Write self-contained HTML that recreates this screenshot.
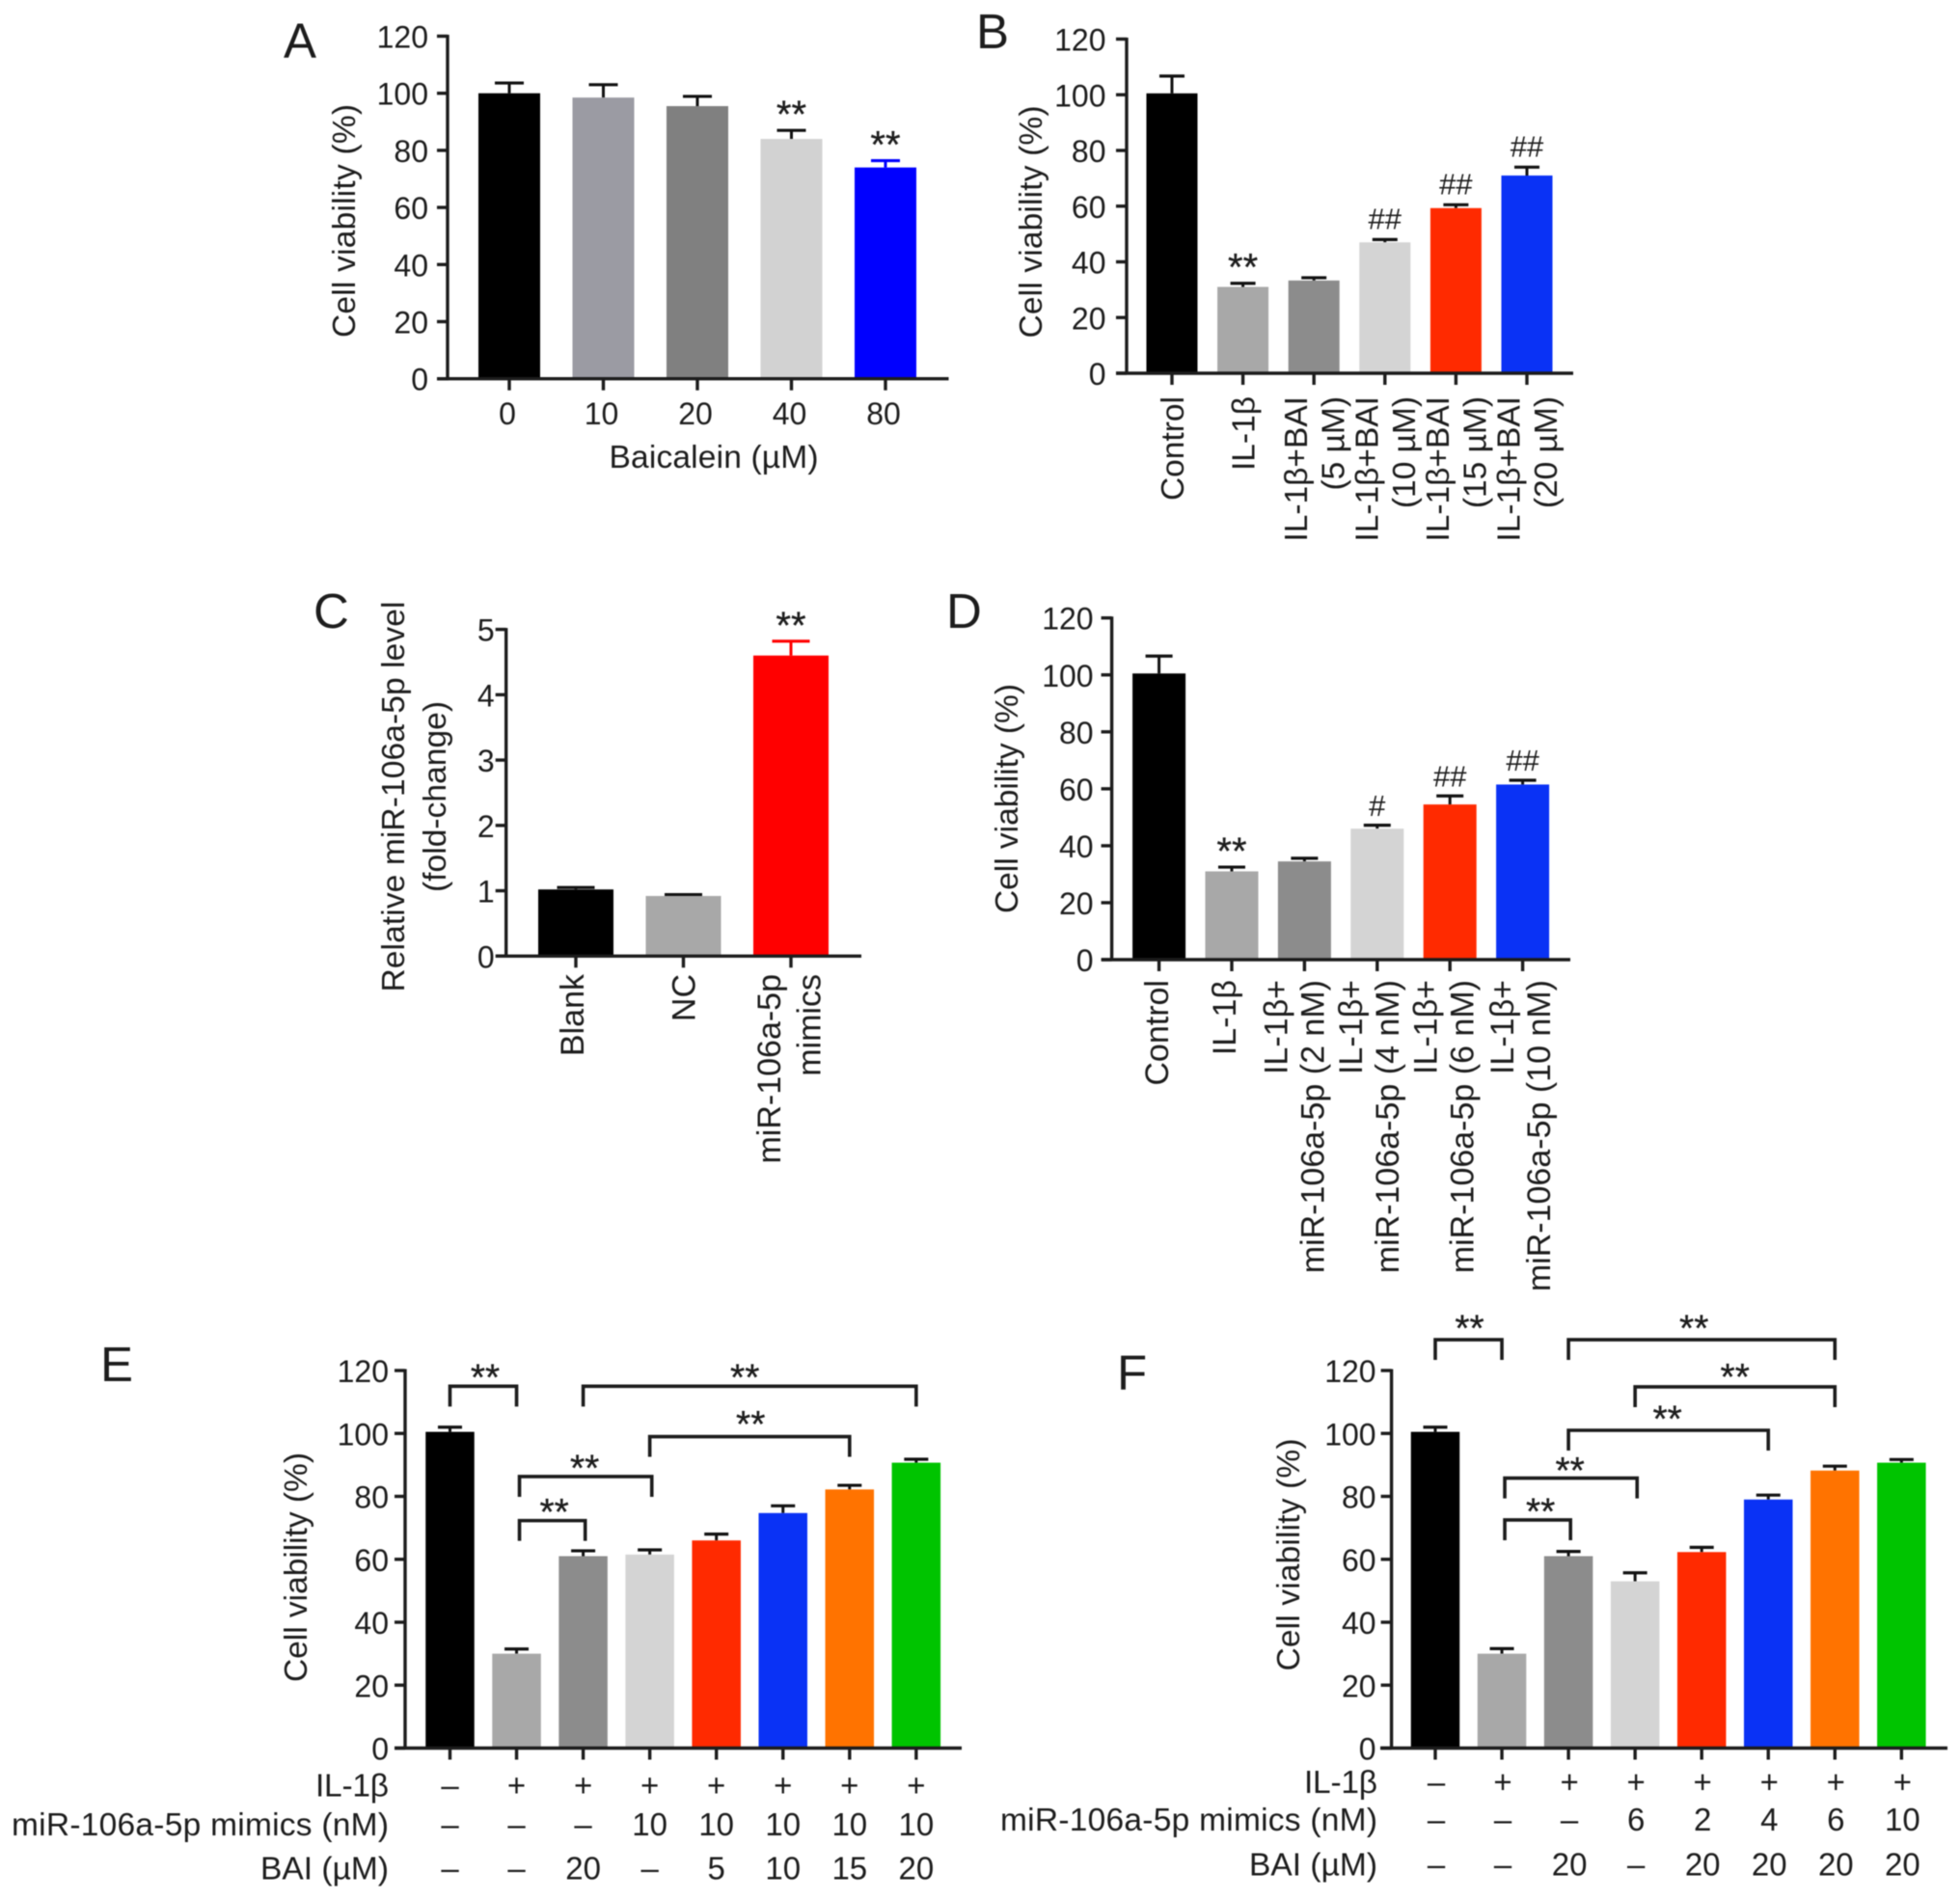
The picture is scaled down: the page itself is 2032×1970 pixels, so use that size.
<!DOCTYPE html>
<html lang="en">
<head>
<meta charset="utf-8">
<title>Cell viability panels A-F</title>
<style>
html,body{margin:0;padding:0;background:#fff;}
#figure{display:block;width:2032px;height:1970px;filter:blur(0.6px);}
text{font-family:"Liberation Sans",Arial,sans-serif;fill:#1c1c1c;}
</style>
</head>
<body>
<svg id="figure" xmlns="http://www.w3.org/2000/svg" width="2032" height="1970" viewBox="0 0 2032 1970">
<rect width="2032" height="1970" fill="#fff"></rect>
<text x="294" y="60" font-size="51">A</text>
<text x="1012" y="50" font-size="51">B</text>
<text x="325" y="651" font-size="51">C</text>
<text x="981" y="651" font-size="51">D</text>
<text x="104" y="1432" font-size="51">E</text>
<text x="1158" y="1441" font-size="51">F</text>
</svg>
<script>
/* ---------- Panel A data ---------- */
const aCategories = ['0', '10', '20', '40', '80'];
const aValues = [100, 98.5, 95.5, 84, 74];
const aErrorTops = [103.6, 103, 98.9, 87, 76.4];
const aMarks = ['', '', '', '**', '**'];
const aTicks = [0, 20, 40, 60, 80, 100, 120];

/* ---------- Panel B data ---------- */
const bCategories = [['Control'], ['IL-1β'], ['IL-1β+BAI', '(5 µM)'], ['IL-1β+BAI', '(10 µM)'], ['IL-1β+BAI', '(15 µM)'], ['IL-1β+BAI', '(20 µM)']];
const bValues = [100.5, 31, 33.3, 47, 59.3, 71];
const bErrorTops = [106.7, 32.3, 34.3, 48, 60.5, 74];
const bMarks = ['', '**', '', '##', '##', '##'];
const bTicks = [0, 20, 40, 60, 80, 100, 120];

/* ---------- Panel C data ---------- */
const cCategories = [['Blank'], ['NC'], ['miR-106a-5p', 'mimics']];
const cValues = [1.02, 0.92, 4.6];
const cErrorTops = [1.05, 0.94, 4.82];
const cMarks = ['', '', '**'];
const cTicks = [0, 1, 2, 3, 4, 5];

/* ---------- Panel D data ---------- */
const dCategories = [['Control'], ['IL-1β'], ['IL-1β+', 'miR-106a-5p (2 nM)'], ['IL-1β+', 'miR-106a-5p (4 nM)'], ['IL-1β+', 'miR-106a-5p (6 nM)'], ['IL-1β+', 'miR-106a-5p (10 nM)']];
const dValues = [100.5, 31, 34.5, 46, 54.5, 61.5];
const dErrorTops = [106.6, 32.5, 35.6, 47.2, 57.5, 63];
const dMarks = ['', '**', '', '#', '##', '##'];
const dTicks = [0, 20, 40, 60, 80, 100, 120];

/* ---------- Panel E data ---------- */
const eValues = [100.5, 30, 61, 61.5, 66, 74.7, 82.2, 90.7];
const eErrorTops = [102, 31.5, 62.7, 63, 68, 77, 83.5, 91.8];
const eTicks = [0, 20, 40, 60, 80, 100, 120];
const eRowIL = ['–', '+', '+', '+', '+', '+', '+', '+'];
const eRowMimics = ['–', '–', '–', '10', '10', '10', '10', '10'];
const eRowBAI = ['–', '–', '20', '–', '5', '10', '15', '20'];
const eBracketFrom = [0, 2, 3, 1, 1];
const eBracketTo = [1, 7, 6, 3, 2];
const eBracketLevel = [115, 115, 99, 86.3, 72.3];

/* ---------- Panel F data ---------- */
const fValues = [100.5, 30, 61, 53, 62.3, 79, 88.2, 90.7];
const fErrorTops = [102, 31.6, 62.5, 55.7, 63.8, 80.4, 89.6, 91.7];
const fTicks = [0, 20, 40, 60, 80, 100, 120];
const fRowIL = ['–', '+', '+', '+', '+', '+', '+', '+'];
const fRowMimics = ['–', '–', '–', '6', '2', '4', '6', '10'];
const fRowBAI = ['–', '–', '20', '–', '20', '20', '20', '20'];
const fBracketFrom = [0, 2, 3, 2, 1, 1];
const fBracketTo = [1, 6, 6, 5, 3, 2];
const fBracketLevel = [129.8, 129.8, 114.8, 101, 85.8, 72.5];

/* ---------- Drawing ---------- */
const NS = 'http://www.w3.org/2000/svg';
const INK = '#1c1c1c';
const AXIS_W = 3.4;
const root = document.getElementById('figure');

function slug(s) {
  return String(s).toLowerCase().replace(/[^a-z0-9]+/g, '-').replace(/^-|-$/g, '');
}
function makeLine(parent, x1, y1, x2, y2, color, width) {
  const el = document.createElementNS(NS, 'line');
  el.setAttribute('x1', x1);
  el.setAttribute('y1', y1);
  el.setAttribute('x2', x2);
  el.setAttribute('y2', y2);
  el.setAttribute('stroke', color);
  el.setAttribute('stroke-width', width);
  parent.appendChild(el);
  return el;
}
function makeText(parent, x, y, str, size, anchor, vertical, length) {
  const el = document.createElementNS(NS, 'text');
  el.setAttribute('x', x);
  el.setAttribute('y', y);
  el.setAttribute('font-size', size);
  el.setAttribute('text-anchor', anchor);
  if (vertical) el.setAttribute('transform', 'rotate(-90 ' + x + ' ' + y + ')');
  if (length) el.setAttribute('textLength', length);
  el.textContent = str;
  parent.appendChild(el);
  return el;
}
function makeGroup(name) {
  const g = document.createElementNS(NS, 'g');
  
  
  root.appendChild(g);
  return g;
}
function emboldenStars(el) {
  el.setAttribute('stroke', INK);
  el.setAttribute('stroke-width', '0.3');
}

function drawBars(L, values, errorTops, ticks) {
  const g = makeGroup('panel-' + L.id + '-chart');
  const y = function (v) { return L.y0 - (v / L.max) * (L.y0 - L.yTop); };
  const x = function (i) { return L.x0 + i * L.step; };
  L.yScale = y;
  L.xScale = x;
  L.group = g;

  values.forEach(function (v, i) {
    const stem = makeLine(g, x(i), y(v), x(i), y(errorTops[i]), L.errorColors[i], 3);
    
    
    const cap = makeLine(g, x(i) - L.capW / 2, y(errorTops[i]), x(i) + L.capW / 2, y(errorTops[i]), L.errorColors[i], 3.2);
    
    
    const bar = document.createElementNS(NS, 'rect');
    bar.setAttribute('x', x(i) - L.barW / 2);
    bar.setAttribute('y', y(v));
    bar.setAttribute('width', L.barW);
    bar.setAttribute('height', L.y0 - y(v));
    bar.setAttribute('fill', L.colors[i]);
    
    
    g.appendChild(bar);
    const tick = makeLine(g, x(i), L.y0, x(i), L.y0 + 12, INK, AXIS_W);
    
    
  });

  const yAxis = makeLine(g, L.axisX, L.yTop - 1.5, L.axisX, L.y0 + 1.5, INK, AXIS_W);
  
  
  const xAxis = makeLine(g, L.xAxisL, L.y0, L.xAxisR, L.y0, INK, AXIS_W);
  
  

  ticks.forEach(function (t) {
    const tl = makeLine(g, L.axisX - 11, y(t), L.axisX, y(t), INK, AXIS_W);
    
    
    const lb = makeText(g, L.axisX - L.labelGap, y(t) + 12, String(t), 32, 'end', false);
    
    
  });
  return g;
}

function drawYTitle(L, lines) {
  lines.forEach(function (line, i) {
    const t = makeText(L.group, line.x, L.titleCy, line.text, 33.5, 'middle', true, line.length);
    
    
  });
}

function drawMarks(L, marks, errorTops) {
  marks.forEach(function (m, i) {
    if (!m) return;
    const isStar = m.charAt(0) === '*';
    const size = isStar ? 40 : 31;
    const center = L.yScale(errorTops[i]) - (isStar ? 26 : L.hashGap);
    const base = center + (isStar ? 0.575 * size : 0.36 * size);
    const t = makeText(L.group, L.xScale(i), base, m, size, 'middle', false);
    if (isStar) emboldenStars(t);
    
    
  });
}

function drawVerticalLabels(L, categories) {
  const size = L.labelFont || 33.5;
  categories.forEach(function (lines, i) {
    const offsets = lines.length === 1 ? L.singleOffset : L.doubleOffset;
    lines.forEach(function (str, j) {
      const cx = L.xScale(i) + L.labelNudge[i] + offsets[j] + size * 0.36;
      const t = makeText(L.group, cx, L.labelTop, str, size, 'end', true);
      
      
    });
  });
}

function drawBrackets(L, from, to, level) {
  from.forEach(function (f, i) {
    const nudge = f === 1 ? 3 : 0;
    const x1 = L.xScale(f) + nudge;
    const x2 = L.xScale(to[i]) + nudge * 0.7;
    const yb = L.yScale(level[i]);
    const p = document.createElementNS(NS, 'polyline');
    p.setAttribute('points', x1 + ',' + (yb + 21) + ' ' + x1 + ',' + yb + ' ' + x2 + ',' + yb + ' ' + x2 + ',' + (yb + 21));
    p.setAttribute('fill', 'none');
    p.setAttribute('stroke', INK);
    p.setAttribute('stroke-width', 3.6);
    
    
    L.group.appendChild(p);
    const sx = (x1 + x2) / 2 + L.starDx[i];
    const sy = yb - 14 + L.starDy[i] + 0.575 * 39;
    const star = makeText(L.group, sx, sy, '**', 39, 'middle', false);
    emboldenStars(star);
    
    
  });
}

function drawRows(L, rowTitles, rows) {
  rows.forEach(function (row, r) {
    const head = makeText(L.group, L.rowTitleX, L.rowY[r], rowTitles[r].text, 33.5, 'end', false, rowTitles[r].length);
    
    
    row.forEach(function (val, i) {
      const cell = makeText(L.group, L.xScale(i) + L.rowNudge, L.rowY[r], val, 33, 'middle', false);
      
      
    });
  });
}

/* Layouts (pixel geometry and styling, kept separate from the data arrays) */
const layoutA = { id: 'a', y0: 392.7, yTop: 37.5, max: 120, x0: 528, step: 97.5, barW: 64, capW: 30, axisX: 464, xAxisL: 453, xAxisR: 983.5, labelGap: 20, hashGap: 22, titleCy: 229,
  colors: ['#000000', '#9b9ba3', '#808080', '#d2d2d2', '#0000ff'],
  errorColors: ['#111', '#111', '#111', '#111', '#0000ff'] };
const layoutB = { id: 'b', y0: 387, yTop: 40.5, max: 120, x0: 1215, step: 73.6, barW: 53, capW: 26, axisX: 1168, xAxisL: 1157, xAxisR: 1631, labelGap: 21.5, hashGap: 22, titleCy: 230, labelTop: 411, singleOffset: [0], doubleOffset: [-19.5, 19], labelNudge: [0, 0, 0, 0, 0, 0],
  colors: ['#000000', '#a8a8a8', '#8c8c8c', '#d4d4d4', '#ff2a00', '#0a32f5'],
  errorColors: ['#111', '#111', '#111', '#111', '#111', '#111'] };
const layoutC = { id: 'c', y0: 991.3, yTop: 652.6, max: 5, x0: 597, step: 111.5, barW: 78, capW: 39, axisX: 524.7, xAxisL: 514, xAxisR: 893, labelGap: 12, hashGap: 22, titleCy: 826, labelTop: 1010, labelFont: 34, singleOffset: [0], doubleOffset: [-23, 18.5], labelNudge: [-4, 0, 0],
  colors: ['#000000', '#a8a8a8', '#ff0000'],
  errorColors: ['#111', '#111', '#ff0000'] };
const layoutD = { id: 'd', y0: 995, yTop: 640.7, max: 120, x0: 1201.6, step: 75.4, barW: 55, capW: 28, axisX: 1152.6, xAxisL: 1142, xAxisR: 1628, labelGap: 19, hashGap: 21, titleCy: 828, labelTop: 1016, labelFont: 34, singleOffset: [-3], doubleOffset: [-23, 15], labelNudge: [0, -5, -7, -5, -3, 1],
  colors: ['#000000', '#a8a8a8', '#8c8c8c', '#d4d4d4', '#ff2a00', '#0a32f5'],
  errorColors: ['#111', '#111', '#111', '#111', '#111', '#111'] };
const layoutE = { id: 'e', y0: 1812.5, yTop: 1421, max: 120, x0: 466.5, step: 69.05, barW: 50.5, capW: 25, axisX: 420, xAxisL: 409, xAxisR: 997, labelGap: 17, hashGap: 20, titleCy: 1625, rowTitleX: 403, rowY: [1862.5, 1903, 1948.5], rowNudge: 0,
  starDx: [2, -5, 1, -1, 2], starDy: [-4, -4, -8, -4, -4],
  colors: ['#000000', '#a8a8a8', '#8c8c8c', '#d4d4d4', '#ff2a00', '#0a32f5', '#ff7300', '#00c400'],
  errorColors: ['#111', '#111', '#111', '#111', '#111', '#111', '#111', '#111'] };
const layoutF = { id: 'f', y0: 1812.5, yTop: 1421, max: 120, x0: 1488, step: 69.05, barW: 50.5, capW: 25, axisX: 1442.6, xAxisL: 1431, xAxisR: 2019, labelGap: 16, hashGap: 20, titleCy: 1612, rowTitleX: 1428, rowY: [1859, 1898, 1944.5], rowNudge: 1,
  starDx: [1, -8, 0, -1, -1, 3], starDy: [-7, -7, -5.5, -7, -3, -4],
  colors: ['#000000', '#a8a8a8', '#8c8c8c', '#d4d4d4', '#ff2a00', '#0a32f5', '#ff7300', '#00c400'],
  errorColors: ['#111', '#111', '#111', '#111', '#111', '#111', '#111', '#111'] };

/* Panel A */
drawBars(layoutA, aValues, aErrorTops, aTicks);
drawYTitle(layoutA, [{ x: 368, text: 'Cell viability (%)', length: 242 }]);
drawMarks(layoutA, aMarks, aErrorTops);
aCategories.forEach(function (c, i) {
  const t = makeText(layoutA.group, layoutA.xScale(i) - 2, 440, c, 32, 'middle', false);
  
  
});
const aXTitle = makeText(layoutA.group, 740, 485, 'Baicalein (µM)', 33.5, 'middle', false, 217);



/* Panel B */
drawBars(layoutB, bValues, bErrorTops, bTicks);
drawYTitle(layoutB, [{ x: 1080, text: 'Cell viability (%)', length: 241 }]);
drawMarks(layoutB, bMarks, bErrorTops);
drawVerticalLabels(layoutB, bCategories);

/* Panel C */
drawBars(layoutC, cValues, cErrorTops, cTicks);
drawYTitle(layoutC, [
  { x: 419, text: 'Relative miR-106a-5p level', length: 405 },
  { x: 462, text: '(fold-change)', length: 198 }
]);
drawMarks(layoutC, cMarks, cErrorTops);
drawVerticalLabels(layoutC, cCategories);

/* Panel D */
drawBars(layoutD, dValues, dErrorTops, dTicks);
drawYTitle(layoutD, [{ x: 1055, text: 'Cell viability (%)', length: 238 }]);
drawMarks(layoutD, dMarks, dErrorTops);
drawVerticalLabels(layoutD, dCategories);

/* Panel E */
const rowTitlesE = [
  { text: 'IL-1β', length: 76 },
  { text: 'miR-106a-5p mimics (nM)', length: 391 },
  { text: 'BAI (µM)', length: 133 }
];
drawBars(layoutE, eValues, eErrorTops, eTicks);
drawYTitle(layoutE, [{ x: 318, text: 'Cell viability (%)', length: 238 }]);
drawBrackets(layoutE, eBracketFrom, eBracketTo, eBracketLevel);
drawRows(layoutE, rowTitlesE, [eRowIL, eRowMimics, eRowBAI]);

/* Panel F */
const rowTitlesF = [
  { text: 'IL-1β', length: 76 },
  { text: 'miR-106a-5p mimics (nM)', length: 391 },
  { text: 'BAI (µM)', length: 133 }
];
drawBars(layoutF, fValues, fErrorTops, fTicks);
drawYTitle(layoutF, [{ x: 1347, text: 'Cell viability (%)', length: 241 }]);
drawBrackets(layoutF, fBracketFrom, fBracketTo, fBracketLevel);
drawRows(layoutF, rowTitlesF, [fRowIL, fRowMimics, fRowBAI]);
</script>
</body>
</html>
